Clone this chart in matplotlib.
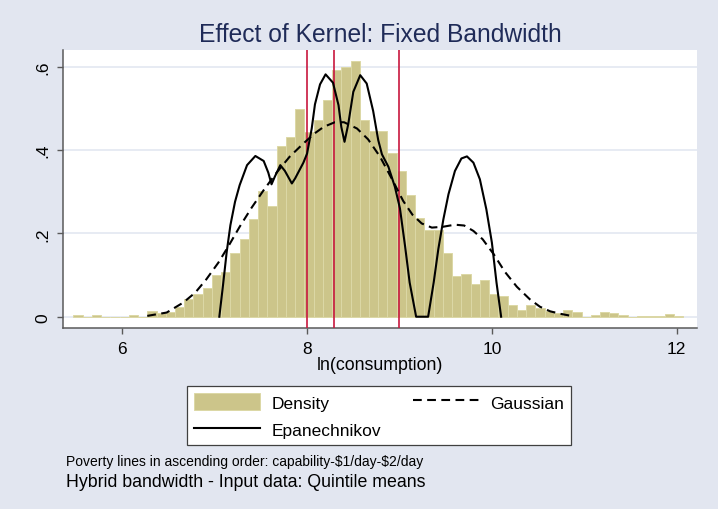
import matplotlib
matplotlib.use("Agg")
import matplotlib.pyplot as plt
from matplotlib.patches import Patch
from matplotlib.lines import Line2D
import numpy as np

# ---------------- data ----------------
bin_start = 5.47
bin_width = 0.1
density = [0.003, 0.0, 0.003, 0.0, 0.0, 0.0, 0.003, 0.0, 0.013, 0.009,
           0.012, 0.024, 0.042, 0.054, 0.070, 0.100, 0.107, 0.152, 0.186, 0.234,
           0.302, 0.267, 0.411, 0.431, 0.498, 0.443, 0.473, 0.521, 0.593, 0.599,
           0.614, 0.473, 0.445, 0.446, 0.394, 0.351, 0.292, 0.238, 0.209, 0.209,
           0.154, 0.098, 0.102, 0.079, 0.088, 0.055, 0.050, 0.029, 0.016, 0.029,
           0.022, 0.014, 0.010, 0.017, 0.011, 0.0, 0.005, 0.012, 0.009, 0.003,
           0.0, 0.002, 0.002, 0.002, 0.006, 0.002]

gauss_x = [6.27, 6.48, 6.66, 6.79, 6.91, 7.04, 7.15, 7.27, 7.40, 7.53,
           7.67, 7.81, 7.95, 8.08, 8.18, 8.30, 8.40, 8.54, 8.66, 8.79,
           8.92, 9.04, 9.14, 9.24, 9.35, 9.47, 9.60, 9.70, 9.80, 9.90,
           10.02, 10.14, 10.27, 10.41, 10.52, 10.63, 10.74, 10.86]
gauss_y = [0.002, 0.010, 0.034, 0.058, 0.090, 0.130, 0.170, 0.216, 0.262, 0.304,
           0.346, 0.384, 0.414, 0.440, 0.456, 0.467, 0.467, 0.452, 0.426, 0.384,
           0.330, 0.278, 0.245, 0.224, 0.214, 0.216, 0.221, 0.219, 0.206, 0.186,
           0.150, 0.108, 0.072, 0.042, 0.024, 0.013, 0.007, 0.002]

epan_x = [7.05, 7.09, 7.13, 7.17, 7.22, 7.27, 7.35, 7.44, 7.53, 7.58,
          7.615, 7.65, 7.71, 7.76, 7.835, 7.87, 7.96, 8.00, 8.05, 8.085,
          8.14, 8.20, 8.28, 8.34, 8.37, 8.405, 8.445, 8.50, 8.575, 8.645,
          8.715, 8.77, 8.81, 8.88, 8.95, 9.005, 9.06, 9.11, 9.18, 9.31,
          9.37, 9.42, 9.475, 9.53, 9.60, 9.67, 9.73, 9.80, 9.87, 9.94,
          10.00, 10.05, 10.10]
epan_y = [0.0, 0.076, 0.156, 0.220, 0.276, 0.316, 0.364, 0.386, 0.374, 0.346,
          0.318, 0.336, 0.364, 0.350, 0.320, 0.332, 0.370, 0.392, 0.452, 0.510,
          0.558, 0.582, 0.562, 0.508, 0.456, 0.420, 0.462, 0.540, 0.580, 0.560,
          0.494, 0.424, 0.390, 0.360, 0.312, 0.260, 0.170, 0.082, 0.0, 0.0,
          0.082, 0.162, 0.234, 0.294, 0.350, 0.380, 0.385, 0.370, 0.330, 0.258,
          0.178, 0.082, 0.0]

poverty_lines = [8.0, 8.29, 8.995]

x_ticks = [6, 8, 10, 12]
x_ticklabels = ["6", "8", "10", "12"]
y_ticks = [0, 0.2, 0.4, 0.6]
y_ticklabels = ["0", ".2", ".4", ".6"]

title = "Effect of Kernel: Fixed Bandwidth"
xlabel = "ln(consumption)"
legend_labels = ["Density", "Epanechnikov", "Gaussian"]
note1 = "Poverty lines in ascending order: capability-$1/day-$2/day"
note2 = "Hybrid bandwidth - Input data: Quintile means"

# ---------------- style ----------------
plt.rcParams['font.family'] = ['Liberation Sans', 'DejaVu Sans']
bg = '#e2e6f0'
bar_col = '#ccc58a'
bar_edge = '#dcd8a6'
red = '#c8183e'
navy = '#1f2b58'
axis_col = '#5a5a5a'

W, H = 718, 510
fig = plt.figure(figsize=(W / 100, H / 100), dpi=100, facecolor=bg)
L, R, T, B = 63, 697, 51, 329
ax = fig.add_axes([L / W, 1 - B / H, (R - L) / W, (B - T) / H])
ax.set_facecolor('white')

edges = [bin_start + i * bin_width for i in range(len(density))]
ax.bar(edges, density, width=bin_width, align='edge', color=bar_col,
       edgecolor=bar_edge, linewidth=0.7, zorder=2)

for p in poverty_lines:
    ax.axvline(p, color=red, lw=1.2, zorder=3)

ax.plot(gauss_x, gauss_y, color='black', lw=1.5, dashes=(4.2, 2.6), zorder=4)
ax.plot(epan_x, epan_y, color='black', lw=1.5, zorder=4)

ax.set_xlim(5.358, 12.22)
ax.set_ylim(-0.0271, 0.6405)

ax.set_yticks(y_ticks)
ax.set_yticklabels(y_ticklabels, rotation=90, va='center')
ax.set_xticks(x_ticks)
ax.set_xticklabels(x_ticklabels)
ax.yaxis.grid(True, color='#e3e8f1', lw=1.2, zorder=0)
ax.set_axisbelow(True)
ax.tick_params(axis='both', colors=axis_col, labelcolor='black', labelsize=12.5,
               length=4.5, width=1.0)
ax.tick_params(axis='x', pad=5)
ax.tick_params(axis='y', pad=4.5)

for s in ['top', 'right']:
    ax.spines[s].set_visible(False)
for s in ['left', 'bottom']:
    ax.spines[s].set_color(axis_col)
    ax.spines[s].set_linewidth(1.1)

ax.set_xlabel(xlabel, fontsize=12.8, labelpad=0)

fig.text((L + R) / 2 / W, 1 - 35 / H, title, ha='center', va='center',
         fontsize=17.7, color=navy)

handles = [Patch(facecolor=bar_col, edgecolor=bar_edge, lw=0.7),
           Line2D([], [], color='black', lw=1.5),
           Line2D([], [], color='black', lw=1.5, dashes=(4.2, 2.6))]
lx0, lx1, ly0, ly1 = 187, 571, 445, 387
leg = fig.legend(handles, legend_labels, ncol=2, mode='expand',
                 bbox_to_anchor=(lx0 / W, 1 - ly0 / H, (lx1 - lx0) / W, (ly0 - ly1) / H),
                 loc='upper left', fontsize=12.5, frameon=True, fancybox=False,
                 handlelength=3.8, handleheight=1.1, handletextpad=0.65,
                 borderpad=0.42, labelspacing=0.6, borderaxespad=0.0,
                 columnspacing=1.0)
leg.get_frame().set_edgecolor('#404040')
leg.get_frame().set_linewidth(0.9)
leg.get_frame().set_facecolor('white')
leg.get_frame().set_alpha(1)

fig.text(66 / W, 1 - 462 / H, note1, ha='left', va='center', fontsize=10,
         parse_math=False)
fig.text(66 / W, 1 - 483 / H, note2, ha='left', va='center', fontsize=12.8)

fig.savefig('out.png', dpi=100, facecolor=bg)
